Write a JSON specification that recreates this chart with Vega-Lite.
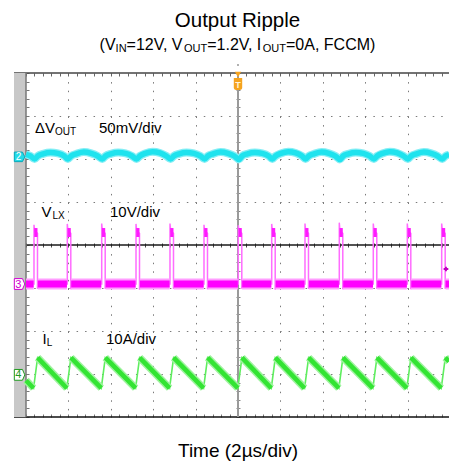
{
  "$schema": "https://vega.github.io/schema/vega-lite/v6.json",
  "width": 435,
  "height": 344,
  "autosize": {"type": "none"},
  "padding": {"left": 14, "top": 73, "right": 0, "bottom": 48},
  "background": "white",
  "config": {"view": {"stroke": null}, "font": "Liberation Sans"},
  "resolve": {"axis": {"x": "independent", "y": "independent"}},
  "datasets": {
    "vout": [
      {"t": 0, "v": 2.11}, {"t": 0.21, "v": 2.07},
      {"t": 0.407, "v": 2.0}, {"t": 0.557, "v": 2.07}, {"t": 0.807, "v": 2.12}, {"t": 1.157, "v": 2.15}, {"t": 1.507, "v": 2.13}, {"t": 1.807, "v": 2.07},
      {"t": 1.978, "v": 2.0}, {"t": 2.128, "v": 2.07}, {"t": 2.378, "v": 2.12}, {"t": 2.728, "v": 2.16}, {"t": 3.078, "v": 2.13}, {"t": 3.378, "v": 2.07},
      {"t": 3.601, "v": 2.0}, {"t": 3.751, "v": 2.07}, {"t": 4.001, "v": 2.12}, {"t": 4.351, "v": 2.15}, {"t": 4.701, "v": 2.13}, {"t": 5.001, "v": 2.07},
      {"t": 5.219, "v": 2.0}, {"t": 5.369, "v": 2.07}, {"t": 5.619, "v": 2.13}, {"t": 5.969, "v": 2.17}, {"t": 6.319, "v": 2.14}, {"t": 6.619, "v": 2.07},
      {"t": 6.822, "v": 2.0}, {"t": 6.972, "v": 2.07}, {"t": 7.222, "v": 2.12}, {"t": 7.572, "v": 2.15}, {"t": 7.922, "v": 2.13}, {"t": 8.222, "v": 2.07},
      {"t": 8.426, "v": 2.0}, {"t": 8.576, "v": 2.07}, {"t": 8.826, "v": 2.12}, {"t": 9.176, "v": 2.16}, {"t": 9.526, "v": 2.13}, {"t": 9.826, "v": 2.07},
      {"t": 10.044, "v": 1.99}, {"t": 10.194, "v": 2.07}, {"t": 10.444, "v": 2.12}, {"t": 10.794, "v": 2.15}, {"t": 11.144, "v": 2.13}, {"t": 11.444, "v": 2.07},
      {"t": 11.62, "v": 2.0}, {"t": 11.77, "v": 2.07}, {"t": 12.02, "v": 2.13}, {"t": 12.37, "v": 2.17}, {"t": 12.72, "v": 2.14}, {"t": 13.02, "v": 2.07},
      {"t": 13.19, "v": 2.0}, {"t": 13.34, "v": 2.07}, {"t": 13.59, "v": 2.12}, {"t": 13.94, "v": 2.16}, {"t": 14.29, "v": 2.13}, {"t": 14.59, "v": 2.07},
      {"t": 14.808, "v": 1.99}, {"t": 14.958, "v": 2.07}, {"t": 15.208, "v": 2.12}, {"t": 15.558, "v": 2.15}, {"t": 15.908, "v": 2.13}, {"t": 16.208, "v": 2.07},
      {"t": 16.412, "v": 2.0}, {"t": 16.562, "v": 2.07}, {"t": 16.812, "v": 2.13}, {"t": 17.162, "v": 2.17}, {"t": 17.512, "v": 2.14}, {"t": 17.812, "v": 2.07},
      {"t": 18.016, "v": 2.0}, {"t": 18.166, "v": 2.07}, {"t": 18.416, "v": 2.12}, {"t": 18.766, "v": 2.16}, {"t": 19.116, "v": 2.13}, {"t": 19.416, "v": 2.07},
      {"t": 19.638, "v": 2.0}, {"t": 19.788, "v": 2.07}, {"t": 19.953, "v": 2.1}
    ],
    "vlx": [
      {"t": 0, "v": -0.907},
      {"t": 0.377, "v": -0.907}, {"t": 0.377, "v": 0.47}, {"t": 0.407, "v": 0.33}, {"t": 0.542, "v": 0.27}, {"t": 0.542, "v": -1.02}, {"t": 0.572, "v": -0.907},
      {"t": 1.948, "v": -0.907}, {"t": 1.948, "v": 0.49}, {"t": 1.978, "v": 0.33}, {"t": 2.113, "v": 0.27}, {"t": 2.113, "v": -1.03}, {"t": 2.143, "v": -0.907},
      {"t": 3.571, "v": -0.907}, {"t": 3.571, "v": 0.5}, {"t": 3.601, "v": 0.33}, {"t": 3.736, "v": 0.27}, {"t": 3.736, "v": -1.02}, {"t": 3.766, "v": -0.907},
      {"t": 5.189, "v": -0.907}, {"t": 5.189, "v": 0.49}, {"t": 5.219, "v": 0.33}, {"t": 5.354, "v": 0.27}, {"t": 5.354, "v": -1.04}, {"t": 5.384, "v": -0.907},
      {"t": 6.792, "v": -0.907}, {"t": 6.792, "v": 0.5}, {"t": 6.822, "v": 0.33}, {"t": 6.957, "v": 0.27}, {"t": 6.957, "v": -1.02}, {"t": 6.987, "v": -0.907},
      {"t": 8.396, "v": -0.907}, {"t": 8.396, "v": 0.47}, {"t": 8.426, "v": 0.33}, {"t": 8.561, "v": 0.27}, {"t": 8.561, "v": -1.03}, {"t": 8.591, "v": -0.907},
      {"t": 10.014, "v": -0.907}, {"t": 10.014, "v": 0.46}, {"t": 10.044, "v": 0.33}, {"t": 10.179, "v": 0.27}, {"t": 10.179, "v": -1.02}, {"t": 10.209, "v": -0.907},
      {"t": 11.59, "v": -0.907}, {"t": 11.59, "v": 0.49}, {"t": 11.62, "v": 0.33}, {"t": 11.755, "v": 0.27}, {"t": 11.755, "v": -1.04}, {"t": 11.785, "v": -0.907},
      {"t": 13.16, "v": -0.907}, {"t": 13.16, "v": 0.5}, {"t": 13.19, "v": 0.33}, {"t": 13.325, "v": 0.27}, {"t": 13.325, "v": -1.02}, {"t": 13.355, "v": -0.907},
      {"t": 14.778, "v": -0.907}, {"t": 14.778, "v": 0.52}, {"t": 14.808, "v": 0.33}, {"t": 14.943, "v": 0.27}, {"t": 14.943, "v": -1.03}, {"t": 14.973, "v": -0.907},
      {"t": 16.382, "v": -0.907}, {"t": 16.382, "v": 0.5}, {"t": 16.412, "v": 0.33}, {"t": 16.547, "v": 0.27}, {"t": 16.547, "v": -1.02}, {"t": 16.577, "v": -0.907},
      {"t": 17.986, "v": -0.907}, {"t": 17.986, "v": 0.5}, {"t": 18.016, "v": 0.33}, {"t": 18.151, "v": 0.27}, {"t": 18.151, "v": -1.03}, {"t": 18.181, "v": -0.907},
      {"t": 19.608, "v": -0.907}, {"t": 19.608, "v": 0.5}, {"t": 19.638, "v": 0.33}, {"t": 19.773, "v": 0.27}, {"t": 19.773, "v": -1.02}, {"t": 19.803, "v": -0.907},
      {"t": 19.953, "v": -0.907}
    ],
    "vhi": [
      {"t0": 0.387, "t1": 0.542}, {"t0": 1.958, "t1": 2.113}, {"t0": 3.581, "t1": 3.736}, {"t0": 5.199, "t1": 5.354},
      {"t0": 6.802, "t1": 6.957}, {"t0": 8.406, "t1": 8.561}, {"t0": 10.024, "t1": 10.179}, {"t0": 11.6, "t1": 11.755},
      {"t0": 13.17, "t1": 13.325}, {"t0": 14.788, "t1": 14.943}, {"t0": 16.392, "t1": 16.547}, {"t0": 17.996, "t1": 18.151},
      {"t0": 19.618, "t1": 19.773}
    ],
    "vlo": [
      {"t0": 0, "t1": 0.36}, {"t0": 0.56, "t1": 1.93}, {"t0": 2.13, "t1": 3.55}, {"t0": 3.755, "t1": 5.17},
      {"t0": 5.37, "t1": 6.775}, {"t0": 6.975, "t1": 8.38}, {"t0": 8.58, "t1": 9.995}, {"t0": 10.195, "t1": 11.57},
      {"t0": 11.775, "t1": 13.14}, {"t0": 13.345, "t1": 14.76}, {"t0": 14.96, "t1": 16.365}, {"t0": 16.565, "t1": 17.965},
      {"t0": 18.17, "t1": 19.59}, {"t0": 19.79, "t1": 19.953}
    ],
    "il": [
      {"t": 0, "v": -3.15},
      {"t": 0.357, "v": -3.33}, {"t": 0.547, "v": -2.62},
      {"t": 1.928, "v": -3.33}, {"t": 2.118, "v": -2.62},
      {"t": 3.551, "v": -3.33}, {"t": 3.741, "v": -2.62},
      {"t": 5.169, "v": -3.33}, {"t": 5.359, "v": -2.62},
      {"t": 6.772, "v": -3.33}, {"t": 6.962, "v": -2.62},
      {"t": 8.376, "v": -3.33}, {"t": 8.566, "v": -2.62},
      {"t": 9.994, "v": -3.33}, {"t": 10.184, "v": -2.62},
      {"t": 11.57, "v": -3.33}, {"t": 11.76, "v": -2.62},
      {"t": 13.14, "v": -3.33}, {"t": 13.33, "v": -2.62},
      {"t": 14.758, "v": -3.33}, {"t": 14.948, "v": -2.62},
      {"t": 16.362, "v": -3.33}, {"t": 16.552, "v": -2.62},
      {"t": 17.966, "v": -3.33}, {"t": 18.156, "v": -2.62},
      {"t": 19.588, "v": -3.33}, {"t": 19.778, "v": -2.62},
      {"t": 19.953, "v": -2.71}
    ],
    "ilr": [
      {"t0": 0, "v0": -3.15, "t1": 0.357, "v1": -3.33},
      {"t0": 0.547, "v0": -2.62, "t1": 1.928, "v1": -3.33},
      {"t0": 2.118, "v0": -2.62, "t1": 3.551, "v1": -3.33},
      {"t0": 3.741, "v0": -2.62, "t1": 5.169, "v1": -3.33},
      {"t0": 5.359, "v0": -2.62, "t1": 6.772, "v1": -3.33},
      {"t0": 6.962, "v0": -2.62, "t1": 8.376, "v1": -3.33},
      {"t0": 8.566, "v0": -2.62, "t1": 9.994, "v1": -3.33},
      {"t0": 10.184, "v0": -2.62, "t1": 11.57, "v1": -3.33},
      {"t0": 11.76, "v0": -2.62, "t1": 13.14, "v1": -3.33},
      {"t0": 13.33, "v0": -2.62, "t1": 14.758, "v1": -3.33},
      {"t0": 14.948, "v0": -2.62, "t1": 16.362, "v1": -3.33},
      {"t0": 16.552, "v0": -2.62, "t1": 17.966, "v1": -3.33},
      {"t0": 18.156, "v0": -2.62, "t1": 19.588, "v1": -3.33},
      {"t0": 19.778, "v0": -2.62, "t1": 19.953, "v1": -2.71}
    ]
  },
  "layer": [
    {"data": {"values": [{}]}, "mark": {"type": "rule", "color": "#444444", "strokeWidth": 1.5},
     "encoding": {"y": {"datum": 4, "type": "quantitative", "scale": {"domain": [-4, 4], "nice": false, "zero": false}, "axis": null}}},
    {"data": {"values": [{}]}, "mark": {"type": "rule", "color": "#111111", "strokeWidth": 1.5},
     "encoding": {"y": {"datum": -4, "type": "quantitative", "axis": null}}},
    {"data": {"values": [{}]}, "mark": {"type": "rule", "color": "#1a1a1a", "strokeWidth": 1.3},
     "encoding": {"y": {"datum": 0, "type": "quantitative", "axis": null}}},
    {"data": {"values": [{}]}, "mark": {"type": "rule", "color": "#9a9a9a", "strokeWidth": 2},
     "encoding": {"x": {"datum": 10, "type": "quantitative", "scale": {"domain": [-0.566, 19.953], "nice": false, "zero": false}, "axis": null}}},
    {"data": {"values": [{}]}, "mark": {"type": "rect", "color": "#c8c8c8"},
     "encoding": {"x": {"datum": -0.566, "type": "quantitative", "axis": null}, "x2": {"datum": 0},
                  "y": {"datum": -4, "type": "quantitative", "axis": null}, "y2": {"datum": 4}}},
    {"data": {"values": [{}]}, "mark": {"type": "rule", "color": "#777777", "strokeWidth": 1.5},
     "encoding": {"x": {"datum": 0, "type": "quantitative", "axis": null}}},

    {"data": {"name": "vout"}, "mark": {"type": "line", "color": "#86eef5", "strokeWidth": 8, "interpolate": "monotone"},
     "encoding": {
       "x": {"field": "t", "type": "quantitative",
             "axis": {"orient": "bottom", "title": "Time (2µs/div)", "labels": false, "ticks": false, "domain": false, "grid": false,
                      "titleFont": "Liberation Sans", "titleFontSize": 19, "titleFontWeight": "normal", "titleColor": "#000000",
                      "titleX": 223.5, "titleY": 39, "titleAlign": "center", "titleBaseline": "alphabetic", "zindex": 0}},
       "y": {"field": "v", "type": "quantitative",
             "axis": {"orient": "left", "values": [-3, -2, -1, 1, 2, 3], "grid": true, "gridDash": [1.5, 6.98], "gridDashOffset": 5.75,
                      "gridColor": "#7a7a7a", "gridWidth": 1, "labels": false, "ticks": false, "domain": false, "title": null, "zindex": 0}}}},
    {"data": {"name": "vout"}, "mark": {"type": "line", "color": "#1fe3ee", "strokeWidth": 5.5, "interpolate": "monotone"},
     "encoding": {
       "x": {"field": "t", "type": "quantitative",
             "axis": {"orient": "bottom", "values": [2, 4, 6, 8, 12, 14, 16, 18], "grid": true, "gridDash": [1.5, 7.1],
                      "gridColor": "#7a7a7a", "gridWidth": 1, "labels": false, "ticks": false, "domain": false, "title": null, "zindex": 0}},
       "y": {"field": "v", "type": "quantitative",
             "axis": {"orient": "left", "offset": -15, "values": [-4,-3.8,-3.6,-3.4,-3.2,-3,-2.8,-2.6,-2.4,-2.2,-2,-1.8,-1.6,-1.4,-1.2,-1,-0.8,-0.6,-0.4,-0.2,0,0.2,0.4,0.6,0.8,1,1.2,1.4,1.6,1.8,2,2.2,2.4,2.6,2.8,3,3.2,3.4,3.6,3.8,4],
                      "tickSize": 3, "tickColor": "#777777", "labels": false, "domain": false, "grid": false, "title": null, "zindex": 0}}}},

    {"data": {"name": "vlx"}, "mark": {"type": "line", "color": "#ff6cff", "strokeWidth": 1.5},
     "encoding": {
       "x": {"field": "t", "type": "quantitative",
             "axis": {"orient": "top", "offset": -3, "values": [0,0.4,0.8,1.2,1.6,2,2.4,2.8,3.2,3.6,4,4.4,4.8,5.2,5.6,6,6.4,6.8,7.2,7.6,8,8.4,8.8,9.2,9.6,10,10.4,10.8,11.2,11.6,12,12.4,12.8,13.2,13.6,14,14.4,14.8,15.2,15.6,16,16.4,16.8,17.2,17.6,18,18.4,18.8,19.2,19.6],
                      "tickSize": 3, "tickColor": "#666666", "labels": false, "domain": false, "grid": false, "title": null, "zindex": 0}},
       "y": {"field": "v", "type": "quantitative",
             "axis": {"orient": "left", "offset": -226, "values": [-4,-3.8,-3.6,-3.4,-3.2,-3,-2.8,-2.6,-2.4,-2.2,-2,-1.8,-1.6,-1.4,-1.2,-1,-0.8,-0.6,-0.4,-0.2,0,0.2,0.4,0.6,0.8,1,1.2,1.4,1.6,1.8,2,2.2,2.4,2.6,2.8,3,3.2,3.4,3.6,3.8,4],
                      "tickSize": 4, "tickColor": "#888888", "labels": false, "domain": false, "grid": false, "title": null, "zindex": 0}},
       "order": {"value": null}}},
    {"data": {"name": "vlo"}, "mark": {"type": "rule", "color": "#ff9dff", "strokeWidth": 11},
     "encoding": {"x": {"field": "t0", "type": "quantitative", "axis": null}, "x2": {"field": "t1"},
                  "y": {"datum": -0.907, "type": "quantitative", "axis": null}}},
    {"data": {"name": "vlo"}, "mark": {"type": "rule", "color": "#ff00ff", "strokeWidth": 7},
     "encoding": {"x": {"field": "t0", "type": "quantitative",
                        "axis": {"orient": "bottom", "offset": -174, "values": [0,0.4,0.8,1.2,1.6,2,2.4,2.8,3.2,3.6,4,4.4,4.8,5.2,5.6,6,6.4,6.8,7.2,7.6,8,8.4,8.8,9.2,9.6,10,10.4,10.8,11.2,11.6,12,12.4,12.8,13.2,13.6,14,14.4,14.8,15.2,15.6,16,16.4,16.8,17.2,17.6,18,18.4,18.8,19.2,19.6],
                                 "tickSize": 4, "tickColor": "#444444", "labels": false, "domain": false, "grid": false, "title": null, "zindex": 0}},
                  "x2": {"field": "t1"},
                  "y": {"datum": -0.907, "type": "quantitative", "axis": null}}},
    {"data": {"name": "vhi"}, "mark": {"type": "rule", "color": "#ff1aff", "strokeWidth": 9},
     "encoding": {"x": {"field": "t0", "type": "quantitative", "axis": null}, "x2": {"field": "t1"},
                  "y": {"datum": 0.29, "type": "quantitative", "axis": null}}},

    {"data": {"name": "il"}, "mark": {"type": "line", "color": "#5fee5f", "strokeWidth": 1.6},
     "encoding": {
       "x": {"field": "t", "type": "quantitative",
             "axis": {"orient": "bottom", "offset": -3, "values": [0,0.4,0.8,1.2,1.6,2,2.4,2.8,3.2,3.6,4,4.4,4.8,5.2,5.6,6,6.4,6.8,7.2,7.6,8,8.4,8.8,9.2,9.6,10,10.4,10.8,11.2,11.6,12,12.4,12.8,13.2,13.6,14,14.4,14.8,15.2,15.6,16,16.4,16.8,17.2,17.6,18,18.4,18.8,19.2,19.6],
                      "tickSize": 3, "tickColor": "#777777", "labels": false, "domain": false, "grid": false, "title": null, "zindex": 0}},
       "y": {"field": "v", "type": "quantitative", "axis": null}}},
    {"data": {"name": "ilr"}, "mark": {"type": "rule", "color": "#9ef39e", "strokeWidth": 7.5, "strokeCap": "butt"},
     "encoding": {"x": {"field": "t0", "type": "quantitative", "axis": null}, "x2": {"field": "t1"},
                  "y": {"field": "v0", "type": "quantitative", "axis": null}, "y2": {"field": "v1"}}},
    {"data": {"name": "ilr"}, "mark": {"type": "rule", "color": "#33e433", "strokeWidth": 4.5, "strokeCap": "butt"},
     "encoding": {"x": {"field": "t0", "type": "quantitative", "axis": null}, "x2": {"field": "t1"},
                  "y": {"field": "v0", "type": "quantitative", "axis": null}, "y2": {"field": "v1"}}},

    {"data": {"values": [{}]}, "mark": {"type": "point", "shape": "M-0.85,-0.8L0.5,-0.8L0.9,0L0.5,0.8L-0.85,0.8Z", "size": 144, "filled": true, "fill": "#22dbe8", "stroke": "#0aa8b8", "strokeWidth": 1, "opacity": 1},
     "encoding": {"x": {"datum": -0.31, "type": "quantitative", "axis": null}, "y": {"datum": 2.05, "type": "quantitative", "axis": null}}},
    {"data": {"values": [{}]}, "mark": {"type": "text", "text": "2", "align": "center", "baseline": "middle", "fontSize": 10, "color": "#ffffff", "font": "Liberation Sans", "dx": -1, "dy": 0.5},
     "encoding": {"x": {"datum": -0.31, "type": "quantitative", "axis": null}, "y": {"datum": 2.05, "type": "quantitative", "axis": null}}},
    {"data": {"values": [{}]}, "mark": {"type": "point", "shape": "M-0.85,-0.9L0.5,-0.9L0.9,0L0.5,0.9L-0.85,0.9Z", "size": 144, "filled": true, "fill": "#ffffff", "stroke": "#d000d0", "strokeWidth": 1, "opacity": 1},
     "encoding": {"x": {"datum": -0.31, "type": "quantitative", "axis": null}, "y": {"datum": -0.907, "type": "quantitative", "axis": null}}},
    {"data": {"values": [{}]}, "mark": {"type": "text", "text": "3", "align": "center", "baseline": "middle", "fontSize": 11, "color": "#d000d0", "font": "Liberation Sans", "dx": -1, "dy": 0.5},
     "encoding": {"x": {"datum": -0.31, "type": "quantitative", "axis": null}, "y": {"datum": -0.907, "type": "quantitative", "axis": null}}},
    {"data": {"values": [{}]}, "mark": {"type": "point", "shape": "M-0.85,-0.9L0.5,-0.9L0.9,0L0.5,0.9L-0.85,0.9Z", "size": 144, "filled": true, "fill": "#ffffff", "stroke": "#1f9a1f", "strokeWidth": 1, "opacity": 1},
     "encoding": {"x": {"datum": -0.31, "type": "quantitative", "axis": null}, "y": {"datum": -3.02, "type": "quantitative", "axis": null}}},
    {"data": {"values": [{}]}, "mark": {"type": "text", "text": "4", "align": "center", "baseline": "middle", "fontSize": 11, "color": "#1f9a1f", "font": "Liberation Sans", "dx": -1, "dy": 0.5},
     "encoding": {"x": {"datum": -0.31, "type": "quantitative", "axis": null}, "y": {"datum": -3.02, "type": "quantitative", "axis": null}}},

    {"data": {"values": [{}]}, "mark": {"type": "point", "shape": "triangle-down", "size": 40, "filled": true, "color": "#f5a31f", "opacity": 1},
     "encoding": {"x": {"datum": 10, "type": "quantitative", "axis": null}, "y": {"datum": 3.965, "type": "quantitative", "axis": null}}},
    {"data": {"values": [{}]}, "mark": {"type": "point", "shape": "M-0.7,-1L0.7,-1L0.7,0.55Q0.7,1,0.3,1L-0.3,1Q-0.7,1,-0.7,0.55Z", "size": 144, "filled": true, "color": "#f5a31f", "opacity": 1},
     "encoding": {"x": {"datum": 10, "type": "quantitative", "axis": null}, "y": {"datum": 3.744, "type": "quantitative", "axis": null}}},
    {"data": {"values": [{}]}, "mark": {"type": "text", "text": "T", "align": "center", "baseline": "middle", "fontSize": 9, "fontWeight": "bold", "color": "#fff4dc", "font": "Liberation Sans", "dy": 0.5},
     "encoding": {"x": {"datum": 10, "type": "quantitative", "axis": null}, "y": {"datum": 3.744, "type": "quantitative", "axis": null}}},
    {"data": {"values": [{}]}, "mark": {"type": "point", "shape": "square", "size": 3, "filled": true, "color": "#888888", "opacity": 1},
     "encoding": {"x": {"datum": 10, "type": "quantitative", "axis": null}, "y": {"datum": 4.186, "type": "quantitative", "axis": null}}},
    {"data": {"values": [{}]}, "mark": {"type": "point", "shape": "cross", "size": 22, "filled": true, "color": "#c000c0", "opacity": 1},
     "encoding": {"x": {"datum": 19.81, "type": "quantitative", "axis": null}, "y": {"datum": -0.558, "type": "quantitative", "axis": null}}},

    {"data": {"values": [{}]}, "mark": {"type": "text", "text": "ΔV", "align": "left", "baseline": "alphabetic", "fontSize": 15, "color": "#000000", "font": "Liberation Sans"},
     "encoding": {"x": {"datum": 0.425, "type": "quantitative", "axis": null}, "y": {"datum": 2.605, "type": "quantitative", "axis": null}}},
    {"data": {"values": [{}]}, "mark": {"type": "text", "text": "OUT", "align": "left", "baseline": "alphabetic", "fontSize": 10, "color": "#000000", "font": "Liberation Sans"},
     "encoding": {"x": {"datum": 1.368, "type": "quantitative", "axis": null}, "y": {"datum": 2.558, "type": "quantitative", "axis": null}}},
    {"data": {"values": [{}]}, "mark": {"type": "text", "text": "50mV/div", "align": "left", "baseline": "alphabetic", "fontSize": 15, "color": "#000000", "font": "Liberation Sans"},
     "encoding": {"x": {"datum": 3.443, "type": "quantitative", "axis": null}, "y": {"datum": 2.605, "type": "quantitative", "axis": null}}},
    {"data": {"values": [{}]}, "mark": {"type": "text", "text": "V", "align": "left", "baseline": "alphabetic", "fontSize": 15, "color": "#000000", "font": "Liberation Sans"},
     "encoding": {"x": {"datum": 0.731, "type": "quantitative", "axis": null}, "y": {"datum": 0.658, "type": "quantitative", "axis": null}}},
    {"data": {"values": [{}]}, "mark": {"type": "text", "text": "LX", "align": "left", "baseline": "alphabetic", "fontSize": 10, "color": "#000000", "font": "Liberation Sans"},
     "encoding": {"x": {"datum": 1.25, "type": "quantitative", "axis": null}, "y": {"datum": 0.616, "type": "quantitative", "axis": null}}},
    {"data": {"values": [{}]}, "mark": {"type": "text", "text": "10V/div", "align": "left", "baseline": "alphabetic", "fontSize": 15, "color": "#000000", "font": "Liberation Sans"},
     "encoding": {"x": {"datum": 3.962, "type": "quantitative", "axis": null}, "y": {"datum": 0.658, "type": "quantitative", "axis": null}}},
    {"data": {"values": [{}]}, "mark": {"type": "text", "text": "I", "align": "left", "baseline": "alphabetic", "fontSize": 15, "color": "#000000", "font": "Liberation Sans"},
     "encoding": {"x": {"datum": 0.778, "type": "quantitative", "axis": null}, "y": {"datum": -2.309, "type": "quantitative", "axis": null}}},
    {"data": {"values": [{}]}, "mark": {"type": "text", "text": "L", "align": "left", "baseline": "alphabetic", "fontSize": 10, "color": "#000000", "font": "Liberation Sans"},
     "encoding": {"x": {"datum": 0.976, "type": "quantitative", "axis": null}, "y": {"datum": -2.349, "type": "quantitative", "axis": null}}},
    {"data": {"values": [{}]}, "mark": {"type": "text", "text": "10A/div", "align": "left", "baseline": "alphabetic", "fontSize": 15, "color": "#000000", "font": "Liberation Sans"},
     "encoding": {"x": {"datum": 3.774, "type": "quantitative", "axis": null}, "y": {"datum": -2.309, "type": "quantitative", "axis": null}}},

    {"data": {"values": [{}]}, "mark": {"type": "text", "text": "Output Ripple", "align": "center", "baseline": "alphabetic", "fontSize": 20.5, "color": "#000000", "font": "Liberation Sans"},
     "encoding": {"x": {"datum": 9.976, "type": "quantitative", "axis": null}, "y": {"datum": 5.07, "type": "quantitative", "axis": null}}},
    {"data": {"values": [{}]}, "mark": {"type": "text", "text": "(V", "align": "left", "baseline": "alphabetic", "fontSize": 16, "color": "#000000", "font": "Liberation Sans"},
     "encoding": {"x": {"datum": 3.472, "type": "quantitative", "axis": null}, "y": {"datum": 4.535, "type": "quantitative", "axis": null}}},
    {"data": {"values": [{}]}, "mark": {"type": "text", "text": "IN", "align": "left", "baseline": "alphabetic", "fontSize": 11, "color": "#000000", "font": "Liberation Sans"},
     "encoding": {"x": {"datum": 4.226, "type": "quantitative", "axis": null}, "y": {"datum": 4.488, "type": "quantitative", "axis": null}}},
    {"data": {"values": [{}]}, "mark": {"type": "text", "text": "=12V, V", "align": "left", "baseline": "alphabetic", "fontSize": 16, "color": "#000000", "font": "Liberation Sans"},
     "encoding": {"x": {"datum": 4.745, "type": "quantitative", "axis": null}, "y": {"datum": 4.535, "type": "quantitative", "axis": null}}},
    {"data": {"values": [{}]}, "mark": {"type": "text", "text": "OUT", "align": "left", "baseline": "alphabetic", "fontSize": 11, "color": "#000000", "font": "Liberation Sans"},
     "encoding": {"x": {"datum": 7.453, "type": "quantitative", "axis": null}, "y": {"datum": 4.488, "type": "quantitative", "axis": null}}},
    {"data": {"values": [{}]}, "mark": {"type": "text", "text": "=1.2V, I", "align": "left", "baseline": "alphabetic", "fontSize": 16, "color": "#000000", "font": "Liberation Sans"},
     "encoding": {"x": {"datum": 8.547, "type": "quantitative", "axis": null}, "y": {"datum": 4.535, "type": "quantitative", "axis": null}}},
    {"data": {"values": [{}]}, "mark": {"type": "text", "text": "OUT", "align": "left", "baseline": "alphabetic", "fontSize": 11, "color": "#000000", "font": "Liberation Sans"},
     "encoding": {"x": {"datum": 11.17, "type": "quantitative", "axis": null}, "y": {"datum": 4.488, "type": "quantitative", "axis": null}}},
    {"data": {"values": [{}]}, "mark": {"type": "text", "text": "=0A, FCCM)", "align": "left", "baseline": "alphabetic", "fontSize": 16, "color": "#000000", "font": "Liberation Sans"},
     "encoding": {"x": {"datum": 12.264, "type": "quantitative", "axis": null}, "y": {"datum": 4.535, "type": "quantitative", "axis": null}}}
  ]
}
